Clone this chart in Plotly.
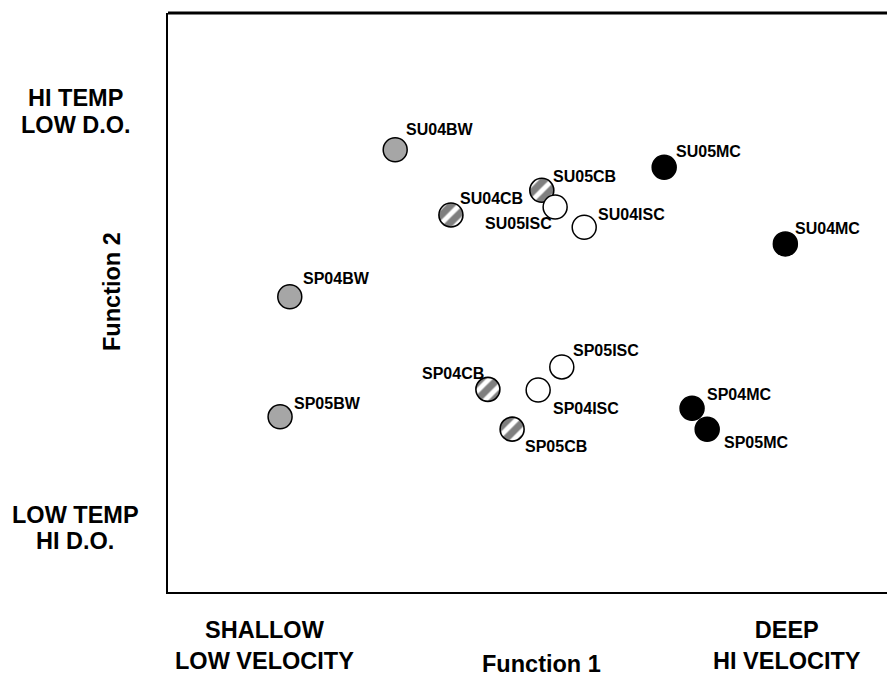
import numpy as np
import plotly.graph_objects as go

# ---- data (discriminant function scores) ----
sites = ["SU04BW", "SU05CB", "SU05ISC", "SU04CB", "SU04ISC", "SU05MC", "SU04MC",
         "SP04BW", "SP05BW", "SP05ISC", "SP04CB", "SP04ISC", "SP05CB", "SP04MC", "SP05MC"]
function1 = [-1.25, 1.17, 1.39, -0.33, 1.87, 3.19, 5.19,
             -2.99, -3.15, 1.50, 0.28, 1.11, 0.68, 3.65, 3.90]
function2 = [2.11, 1.55, 1.32, 1.21, 1.04, 1.87, 0.81,
             0.08, -1.58, -0.89, -1.20, -1.21, -1.75, -1.46, -1.75]
habitat = ["BW", "CB", "ISC", "CB", "ISC", "MC", "MC",
           "BW", "BW", "ISC", "CB", "ISC", "CB", "MC", "MC"]

x_range = [-5, 7]
y_range = [-4, 4]

# ---- style / label placement (pixels) ----
PAGE = 8                      # default body margin of the html page
W, H = 895 - PAGE, 676 - PAGE
ML, MR, MT, MB = 168 - PAGE, 0, 13 - PAGE, 84
PW, PH = W - ML - MR, H - MT - MB
FONT = "Liberation Sans, Arial, Helvetica, sans-serif"
MSIZE = 24
label_pos = {  # xanchor, xshift, yshift
    "SU04BW": ("left", 9, 20), "SU05CB": ("left", 9, 14), "SU05ISC": ("right", -1, -17),
    "SU04CB": ("left", 7, 16), "SU04ISC": ("left", 12, 13), "SU05MC": ("left", 10, 16),
    "SU04MC": ("left", 8, 15), "SP04BW": ("left", 11, 18), "SP05BW": ("left", 12, 13),
    "SP05ISC": ("left", 9, 16), "SP04CB": ("right", -2, 16), "SP04ISC": ("left", 13, -18),
    "SP05CB": ("left", 11, -17), "SP04MC": ("left", 13, 14), "SP05MC": ("left", 15, -13),
}

fig = go.Figure()

def pts(group):
    idx = [i for i, h in enumerate(habitat) if h == group]
    return [function1[i] for i in idx], [function2[i] for i in idx]

# gray (BW)
gx, gy = pts("BW")
fig.add_trace(go.Scatter(x=gx, y=gy, mode="markers",
                         marker=dict(size=MSIZE, color="#a6a6a6", line=dict(color="black", width=1.5))))

# hatched (CB): circle polygons with pattern fill, radius in pixels converted to data units
r_px = MSIZE / 2
rx = r_px * (x_range[1] - x_range[0]) / PW
ry = r_px * (y_range[1] - y_range[0]) / PH
theta = np.linspace(0, 2 * np.pi, 60)
hx, hy = pts("CB")
for cx, cy in zip(hx, hy):
    fig.add_trace(go.Scatter(x=cx + rx * np.cos(theta), y=cy + ry * np.sin(theta),
                             mode="lines", line=dict(width=0), fill="toself",
                             fillcolor="white",
                             fillpattern=dict(shape="/", fgcolor="black", bgcolor="white",
                                              size=12, solidity=0.6),
                             hoverinfo="skip"))
fig.add_trace(go.Scatter(x=hx, y=hy, mode="markers",
                         marker=dict(size=MSIZE, color="rgba(0,0,0,0)", line=dict(color="black", width=1.6))))

# open (ISC)
ox, oy = pts("ISC")
fig.add_trace(go.Scatter(x=ox, y=oy, mode="markers",
                         marker=dict(size=MSIZE, color="white", line=dict(color="black", width=1.5))))

# black (MC)
bx, by = pts("MC")
fig.add_trace(go.Scatter(x=bx, y=by, mode="markers",
                         marker=dict(size=MSIZE, color="black", line=dict(color="black", width=1.5))))

# point labels
for name, fx, fy in zip(sites, function1, function2):
    xa, xs, ys = label_pos[name]
    fig.add_annotation(x=fx, y=fy, xref="x", yref="y", text=f"<b>{name}</b>", showarrow=False,
                       xanchor=xa, yanchor="middle", xshift=xs, yshift=ys,
                       font=dict(family=FONT, size=16, color="black"))

# page-pixel positions -> paper coordinates
def paper_x(px):
    return (px - PAGE - ML) / PW

def paper_y(py):
    return (H - MB - (py - PAGE)) / PH

big = dict(family=FONT, size=23.5, color="black")
outer = [
    ("<b>HI TEMP</b>", 75, 98),
    ("<b>LOW D.O.</b>", 76, 125),
    ("<b>LOW TEMP</b>", 75, 515),
    ("<b>HI D.O.</b>", 75, 541),
    ("<b>SHALLOW<br>LOW VELOCITY</b>", 264, 645),
    ("<b>DEEP<br>HI VELOCITY</b>", 787, 645),
]
for txt, px, py in outer:
    fig.add_annotation(x=paper_x(px), y=paper_y(py), xref="paper", yref="paper", text=txt,
                       showarrow=False, xanchor="center", yanchor="middle", align="center", font=big)

fig.add_annotation(x=paper_x(541), y=paper_y(664), xref="paper", yref="paper",
                   text="<b>Function 1</b>", showarrow=False, xanchor="center", yanchor="middle",
                   font=big)
fig.add_annotation(x=paper_x(112), y=paper_y(292), xref="paper", yref="paper",
                   text="<b>Function 2</b>", showarrow=False, xanchor="center", yanchor="middle",
                   textangle=-90, font=big)

# top frame line
fig.add_shape(type="line", xref="paper", yref="paper", x0=0, x1=1, y0=1, y1=1,
              line=dict(color="black", width=3))

fig.update_xaxes(range=x_range, showgrid=False, zeroline=False, showticklabels=False, ticks="",
                 showline=True, linecolor="black", linewidth=2)
fig.update_yaxes(range=y_range, showgrid=False, zeroline=False, showticklabels=False, ticks="",
                 showline=True, linecolor="black", linewidth=2)
fig.update_layout(width=W, height=H, margin=dict(l=ML, r=MR, t=MT, b=MB),
                  plot_bgcolor="white", paper_bgcolor="white", showlegend=False,
                  hovermode=False)

fig.write_html("out.html")
